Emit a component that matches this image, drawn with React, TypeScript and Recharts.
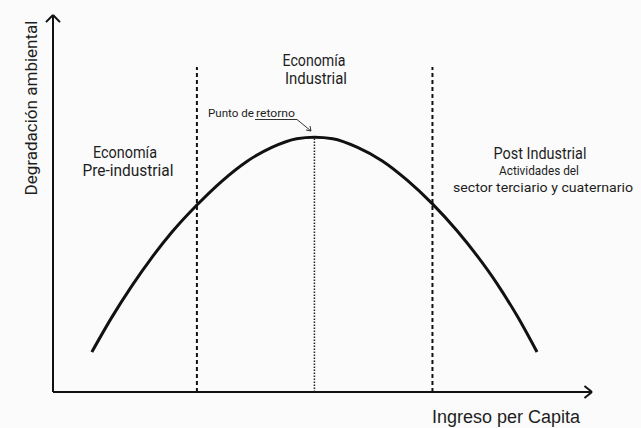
import React from "react";
import { LineChart, Line, XAxis, YAxis, ReferenceLine, Customized } from "recharts";

// Income per capita (0-100 scale) and environmental degradation (0-100 scale)
const incomeValues = [7.2, 10.9, 14.6, 18.3, 22.0, 26.7, 31.3, 35.9, 40.6, 45.2, 48.5, 51.9, 56.5, 61.1, 65.7, 70.4, 75.0, 78.7, 82.4, 86.1, 89.8];
const degradationValues = [10.6, 19.8, 28.1, 35.6, 42.3, 49.6, 55.9, 61.1, 64.9, 67.2, 67.6, 67.2, 64.9, 61.3, 56.2, 49.9, 42.7, 36.1, 28.7, 20.2, 10.6];

// Stage boundaries (income) and their heights
const stageBoundaries = [26.7, 70.4];
const boundaryTop = 86.2;
const turningPointIncome = 48.5;
const turningPointDegradation = 67.6;

const yAxisTitle = "Degradación ambiental";
const xAxisTitle = "Ingreso per Capita";
const preIndustrialLines = ["Economía", "Pre-industrial"];
const industrialLines = ["Economía", "Industrial"];
const postIndustrialLines = ["Post Industrial", "Actividades del", "sector terciario y cuaternario"];
const turningPointLabel = ["Punto de ", "retorno"];

const data = incomeValues.map((x, i) => ({ x, y: degradationValues[i] }));

const FONT = "Roboto, 'Noto Sans', sans-serif";
const INK = "#1e1e1e";

const Annotations = () => (
  <g>
    <text
      transform="translate(37,108) rotate(-90)"
      textAnchor="middle"
      fontFamily={FONT}
      fontSize={17}
      fill={INK}
      textLength={175}
      lengthAdjust="spacingAndGlyphs"
    >
      {yAxisTitle}
    </text>
    <text x={125} y={158} textAnchor="middle" fontFamily={FONT} fontSize={16} fill={INK} textLength={64} lengthAdjust="spacingAndGlyphs">{preIndustrialLines[0]}</text>
    <text x={128} y={176} textAnchor="middle" fontFamily={FONT} fontSize={16} fill={INK} textLength={91} lengthAdjust="spacingAndGlyphs">{preIndustrialLines[1]}</text>
    <text x={314} y={66} textAnchor="middle" fontFamily={FONT} fontSize={16} fill={INK} textLength={63} lengthAdjust="spacingAndGlyphs">{industrialLines[0]}</text>
    <text x={316} y={84} textAnchor="middle" fontFamily={FONT} fontSize={16} fill={INK} textLength={62} lengthAdjust="spacingAndGlyphs">{industrialLines[1]}</text>
    <text x={540} y={159} textAnchor="middle" fontFamily={FONT} fontSize={16} fill={INK} textLength={93} lengthAdjust="spacingAndGlyphs">{postIndustrialLines[0]}</text>
    <text x={539} y={175} textAnchor="middle" fontFamily={FONT} fontSize={13.5} fill={INK} textLength={80} lengthAdjust="spacingAndGlyphs">{postIndustrialLines[1]}</text>
    <text x={543} y={192} textAnchor="middle" fontFamily={FONT} fontSize={13.5} fill={INK} textLength={180} lengthAdjust="spacingAndGlyphs">{postIndustrialLines[2]}</text>
    <text x={208} y={117} fontFamily={FONT} fontSize={11.5} fill={INK} textLength={46} lengthAdjust="spacingAndGlyphs">{turningPointLabel[0]}</text>
    <text x={256} y={117} fontFamily={FONT} fontSize={11.5} fill={INK} textLength={39} lengthAdjust="spacingAndGlyphs">{turningPointLabel[1]}</text>
    <polyline points="255,119.5 297,119.5 311,131" fill="none" stroke="#333" strokeWidth={1} />
    <polyline points="306,130 311,131 310,126" fill="none" stroke="#333" strokeWidth={1} />
    <text x={432} y={423} fontFamily="'Liberation Sans', Arial, sans-serif" fontSize={18} fill={INK}>{xAxisTitle}</text>
  </g>
);

export default function App() {
  return (
    <div style={{ position: "absolute", left: 0, top: 0, width: 641, height: 428, background: "#fbfbfb" }}>
      <LineChart width={641} height={428} data={data} margin={{ top: 15, right: 49, bottom: 36, left: 53 }}>
        <XAxis type="number" dataKey="x" domain={[0, 100]} height={0} tick={false} tickLine={false} axisLine={false} />
        <YAxis type="number" domain={[0, 100]} width={0} tick={false} tickLine={false} axisLine={false} />
        {/* axes drawn as reference segments with arrow heads */}
        <ReferenceLine segment={[{ x: 0, y: 0 }, { x: 100, y: 0 }]} stroke="#111" strokeWidth={2} ifOverflow="visible" />
        <ReferenceLine segment={[{ x: 0, y: 0 }, { x: 0, y: 100 }]} stroke="#111" strokeWidth={2} ifOverflow="visible" />
        <ReferenceLine segment={[{ x: 98.6, y: 1.6 }, { x: 100, y: 0 }]} stroke="#111" strokeWidth={2} ifOverflow="visible" />
        <ReferenceLine segment={[{ x: 98.6, y: -1.6 }, { x: 100, y: 0 }]} stroke="#111" strokeWidth={2} ifOverflow="visible" />
        <ReferenceLine segment={[{ x: -1.3, y: 98.1 }, { x: 0, y: 100 }]} stroke="#111" strokeWidth={2} ifOverflow="visible" />
        <ReferenceLine segment={[{ x: 1.3, y: 98.1 }, { x: 0, y: 100 }]} stroke="#111" strokeWidth={2} ifOverflow="visible" />
        {stageBoundaries.map((b) => (
          <ReferenceLine
            key={b}
            segment={[{ x: b, y: 0 }, { x: b, y: boundaryTop }]}
            stroke="#111"
            strokeWidth={2}
            strokeDasharray="4 3"
            ifOverflow="visible"
          />
        ))}
        <ReferenceLine
          segment={[{ x: turningPointIncome, y: 0 }, { x: turningPointIncome, y: turningPointDegradation }]}
          stroke="#222"
          strokeWidth={1.5}
          strokeDasharray="1.5 1.5"
          ifOverflow="visible"
        />
        <Line
          type="monotone"
          dataKey="y"
          stroke="#111"
          strokeWidth={3}
          dot={false}
          activeDot={false}
          isAnimationActive={false}
        />
        <Customized component={Annotations} />
      </LineChart>
    </div>
  );
}
